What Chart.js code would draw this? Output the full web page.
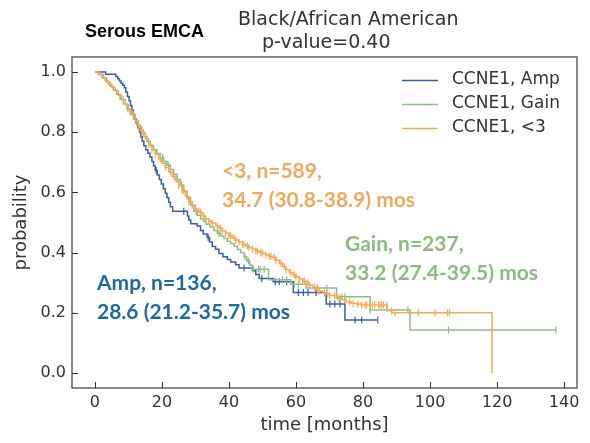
<!DOCTYPE html>
<html>
<head>
<meta charset="utf-8">
<script src="https://cdn.jsdelivr.net/npm/chart.js@4.4.1/dist/chart.umd.min.js"></script>
<style>
html,body{margin:0;padding:0;background:#fff;}
canvas{display:block;}
</style>
</head>
<body>
<canvas id="c" width="590" height="443"></canvas>
<script>
// ---------- DATA ----------
const seriesLabels = ["CCNE1, Amp", "CCNE1, Gain", "CCNE1, <3"];

// Amp (n=136): event times (months) and survival after each event
const ampT = [0, 3.2, 6.2, 6.8, 7.3, 7.8, 8.3, 8.8, 9.2, 9.7, 10.2, 10.6, 11.0, 11.4, 11.8, 12.3, 12.8, 13.3, 13.7, 14.1, 14.6, 15.2, 15.8, 16.4, 17.0, 17.5, 18.0, 18.6, 19.2, 19.8, 20.4, 21.0, 21.5, 22.0, 22.5, 23.2, 27.6, 28.0, 28.6, 30.5, 31.5, 32.3, 33.5, 34.2, 35.0, 36.0, 37.0, 38.2, 39.5, 40.5, 42.0, 43.0, 47.0, 48.0, 49.0, 53.2, 59.2, 69.0, 74.6];
const ampS = [1.000, 0.993, 0.985, 0.978, 0.970, 0.963, 0.956, 0.948, 0.934, 0.919, 0.904, 0.889, 0.874, 0.860, 0.845, 0.830, 0.815, 0.800, 0.785, 0.770, 0.755, 0.742, 0.730, 0.718, 0.703, 0.688, 0.673, 0.658, 0.643, 0.628, 0.612, 0.597, 0.582, 0.567, 0.552, 0.537, 0.522, 0.508, 0.496, 0.488, 0.473, 0.462, 0.450, 0.435, 0.420, 0.411, 0.397, 0.386, 0.377, 0.369, 0.360, 0.349, 0.340, 0.327, 0.314, 0.303, 0.267, 0.229, 0.176];
const ampCensorT = [18.3, 26.5, 33.8, 44.5, 49.8, 53.8, 55.0, 57.2, 60.7, 62.2, 63.6, 66.0, 70.1, 71.6, 73.1, 77.6, 79.6, 84.4];

// Gain (n=237)
const gainT = [0, 1.5, 2.5, 3.5, 4.5, 5.5, 6.5, 7.5, 8.5, 9.5, 10.5, 11.5, 12.5, 13.5, 14.5, 15.5, 16.5, 17.5, 18.5, 19.5, 20.5, 21.5, 22.5, 23.5, 24.5, 25.5, 26.5, 27.5, 28.5, 29.5, 30.5, 31.5, 32.5, 33.2, 34.3, 35.5, 36.5, 37.5, 38.5, 39.5, 40.5, 41.5, 42.5, 43.5, 44.5, 45.3, 46.2, 47.0, 51.8, 58.4, 63.0, 72.1, 82.1, 94.0];
const gainS = [1.000, 0.992, 0.979, 0.966, 0.953, 0.940, 0.926, 0.910, 0.894, 0.877, 0.860, 0.843, 0.823, 0.803, 0.786, 0.770, 0.755, 0.742, 0.729, 0.716, 0.703, 0.690, 0.676, 0.660, 0.643, 0.625, 0.604, 0.582, 0.557, 0.537, 0.524, 0.512, 0.503, 0.494, 0.485, 0.473, 0.464, 0.455, 0.447, 0.438, 0.430, 0.421, 0.410, 0.400, 0.386, 0.372, 0.358, 0.345, 0.310, 0.295, 0.282, 0.253, 0.209, 0.143];
const gainCensorT = [9.8, 14.0, 20.2, 22.0, 24.5, 25.8, 30.2, 37.0, 44.8, 45.8, 47.3, 48.8, 49.3, 50.5, 56.0, 57.2, 59.5, 60.7, 66.3, 69.2, 73.7, 74.6, 82.1, 93.4, 105.5, 137.6];

// <3 (n=589)
const lt3T = [0, 1, 2, 3, 4, 5, 6, 7, 8, 9, 10, 11, 12, 13, 14, 15, 16, 17, 18, 19, 20, 21, 22, 23, 24, 25, 26, 27, 28, 29, 30, 31, 32, 33, 34, 34.7, 36, 37, 38, 39, 40, 41, 42, 43, 44, 45, 46, 47, 48, 49, 50, 51, 52, 53, 54, 55, 56, 57, 58, 59, 60, 61, 62, 63, 64, 65, 66, 67, 68, 69, 70, 72, 73.5, 75, 76.5, 78, 79.5, 87.2, 88.6, 118.5];
const lt3S = [1.000, 0.992, 0.982, 0.971, 0.960, 0.949, 0.937, 0.923, 0.908, 0.892, 0.875, 0.857, 0.838, 0.818, 0.798, 0.778, 0.759, 0.742, 0.726, 0.711, 0.697, 0.683, 0.669, 0.654, 0.639, 0.623, 0.606, 0.587, 0.570, 0.557, 0.545, 0.534, 0.522, 0.512, 0.504, 0.498, 0.489, 0.481, 0.472, 0.464, 0.456, 0.449, 0.442, 0.435, 0.428, 0.422, 0.416, 0.411, 0.405, 0.401, 0.397, 0.392, 0.388, 0.384, 0.375, 0.365, 0.354, 0.343, 0.333, 0.326, 0.319, 0.312, 0.305, 0.299, 0.292, 0.285, 0.279, 0.272, 0.266, 0.262, 0.257, 0.249, 0.243, 0.236, 0.232, 0.229, 0.226, 0.207, 0.200, 0.000];
const lt3CensorT = [8.5, 11.5, 13, 14.5, 16, 17, 18, 19.5, 21, 22.5, 23.5, 25, 26, 26.5, 27.5, 28, 29, 30, 31.5, 32.5, 33, 34, 35, 36.5, 37.5, 38, 39, 40, 40.5, 41.5, 42, 43, 44, 44.5, 45.5, 46, 47, 48, 48.5, 49.5, 50, 51, 52, 52.5, 53.5, 54, 55.5, 56.5, 57, 58.5, 59.5, 60, 61, 62, 62.5, 63.5, 64, 65.5, 66.5, 67, 68.5, 69.5, 70, 71.5, 72.5, 73, 74.5, 76, 77, 78.5, 79.6, 80.6, 81.1, 82, 82.8, 83.5, 84.6, 85.1, 85.6, 86.1, 87.1, 88.5, 89.6, 96.5, 101.5, 105.2, 105.8];

const xTickVals = [0, 20, 40, 60, 80, 100, 120, 140];
const yTickVals = [0.0, 0.2, 0.4, 0.6, 0.8, 1.0];

const annotations = [
  ["<3, n=589,", "34.7 (30.8-38.9) mos"],
  ["Gain, n=237,", "33.2 (27.4-39.5) mos"],
  ["Amp, n=136,", "28.6 (21.2-35.7) mos"]
];
const titleLines = ["Black/African American", "p-value=0.40"];
const panelLabel = "Serous EMCA";

// ---------- STYLE ----------
const colors = ["#3d5ca8", "#8dbd86", "#f4a95a"];
const annoColors = ["#f0a95a", "#8cbb82", "#1d6aa3"];
const annoPos = [[222, 171], [345, 244], [97, 283]];

function stepLookup(T, S, t) {
  let v = S[0];
  for (let i = 0; i < T.length; i++) { if (T[i] <= t) v = S[i]; else break; }
  return v;
}
function curve(T, S, C) {
  const pts = T.map((t, i) => ({x: t, y: S[i]}));
  const lastC = Math.max(...C);
  if (lastC > T[T.length - 1]) pts.push({x: lastC, y: S[S.length - 1]});
  return pts;
}
function censors(T, S, C) {
  return C.map(t => ({x: t, y: stepLookup(T, S, t)}));
}
const groups = [[ampT, ampS, ampCensorT], [gainT, gainS, gainCensorT], [lt3T, lt3S, lt3CensorT]];
const datasets = [];
groups.forEach((g, i) => {
  datasets.push({
    type: 'line', label: seriesLabels[i], data: curve(g[0], g[1], g[2]),
    stepped: true, borderColor: colors[i], borderWidth: 1.5, pointRadius: 0, fill: false, order: 3 - i
  });
});
groups.forEach((g, i) => {
  datasets.push({
    type: 'scatter', label: seriesLabels[i] + ' censored', data: censors(g[0], g[1], g[2]),
    showLine: false, pointStyle: 'line', rotation: 90, pointRadius: 3.5, borderWidth: 1.2,
    borderColor: colors[i], backgroundColor: colors[i], order: 3 - i
  });
});

const decor = {
  id: 'decor',
  afterDraw(chart) {
    const ctx = chart.ctx, a = chart.chartArea;
    const xs = chart.scales.x, ys = chart.scales.y;
    ctx.save();
    // frame
    ctx.strokeStyle = '#4a4a4a'; ctx.lineWidth = 1.3;
    ctx.strokeRect(a.left, a.top, a.right - a.left, a.bottom - a.top);
    // inward ticks
    ctx.lineWidth = 1.1; ctx.strokeStyle = '#333';
    ctx.beginPath();
    xTickVals.forEach(v => { const px = Math.round(xs.getPixelForValue(v)) + 0.5; ctx.moveTo(px, a.bottom); ctx.lineTo(px, a.bottom - 6); });
    yTickVals.forEach(v => { const py = Math.round(ys.getPixelForValue(v)) + 0.5; ctx.moveTo(a.left, py); ctx.lineTo(a.left + 6, py); });
    ctx.stroke();
    // legend
    ctx.font = '17px "DejaVu Sans"'; ctx.textBaseline = 'middle'; ctx.textAlign = 'left';
    seriesLabels.forEach((l, i) => {
      const y = 80 + 24 * i;
      ctx.strokeStyle = colors[i]; ctx.lineWidth = 1.4;
      ctx.beginPath(); ctx.moveTo(402, y + 0.5); ctx.lineTo(438, y + 0.5); ctx.stroke();
      ctx.fillStyle = '#333'; ctx.fillText(l, 452, y);
    });
    // annotations
    ctx.font = 'bold 21px Lato';
    annotations.forEach((lines, i) => {
      ctx.fillStyle = annoColors[i];
      lines.forEach((s, j) => ctx.fillText(s, annoPos[i][0], annoPos[i][1] + 29 * j));
    });
    // title
    ctx.fillStyle = '#333'; ctx.font = '19px "DejaVu Sans"';
    ctx.fillText(titleLines[0], 238, 20);
    ctx.fillText(titleLines[1], 262, 43);
    ctx.fillStyle = '#000'; ctx.font = 'bold 18px "Liberation Sans"';
    ctx.fillText(panelLabel, 85, 32);
    // axis titles
    ctx.fillStyle = '#333'; ctx.font = '18px "DejaVu Sans"'; ctx.textAlign = 'center';
    ctx.fillText('time [months]', (a.left + a.right) / 2, 425);
    ctx.save(); ctx.translate(21, (a.top + a.bottom) / 2); ctx.rotate(-Math.PI / 2);
    ctx.fillText('probability', 0, 0); ctx.restore();
    ctx.restore();
  }
};

new Chart(document.getElementById('c'), {
  type: 'line',
  data: {datasets},
  options: {
    responsive: false, animation: false, devicePixelRatio: 1,
    layout: {padding: {left: 0, right: 13, top: 57, bottom: 0}},
    plugins: {legend: {display: false}, tooltip: {enabled: false}, title: {display: false}},
    scales: {
      x: {
        type: 'linear', min: -6.85, max: 143.85,
        afterBuildTicks: s => { s.ticks = xTickVals.map(v => ({value: v})); },
        afterFit: s => { s.height = 55; },
        grid: {display: false, drawTicks: false}, border: {display: false},
        ticks: {padding: 5, color: '#333', font: {family: 'DejaVu Sans', size: 16}, maxRotation: 0}
      },
      y: {
        type: 'linear', min: -0.05, max: 1.05,
        afterBuildTicks: s => { s.ticks = yTickVals.map(v => ({value: v})); },
        afterFit: s => { s.width = 72; },
        grid: {display: false, drawTicks: false}, border: {display: false},
        ticks: {padding: 6, color: '#333', font: {family: 'DejaVu Sans', size: 16}, callback: v => v.toFixed(1)}
      }
    }
  },
  plugins: [decor]
});
</script>
</body>
</html>
